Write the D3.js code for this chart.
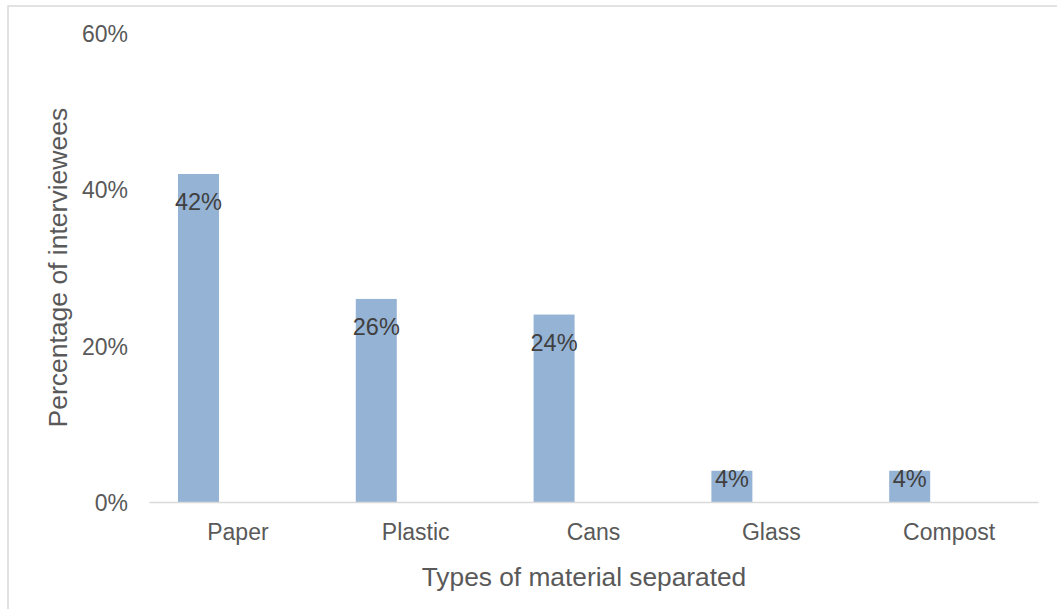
<!DOCTYPE html>
<html>
<head>
<meta charset="utf-8">
<script src="https://cdn.jsdelivr.net/npm/d3@7"></script>
<style>
  html, body { margin: 0; padding: 0; background: #fff; }
  svg { display: block; font-family: "Liberation Sans", Arial, sans-serif; }
</style>
</head>
<body>
<svg id="chart" width="1057" height="609"></svg>
<script>
// Share of interviewees separating each material type
const categories = ["Paper", "Plastic", "Cans", "Glass", "Compost"];
const shares = [0.42, 0.26, 0.24, 0.04, 0.04];
const yTicks = [0, 0.2, 0.4, 0.6];
const xTitle = "Types of material separated";
const yTitle = "Percentage of interviewees";

const svg = d3.select("#chart");
const W = 1057, H = 609;
const plot = { left: 149, right: 1038, top: 33.4, bottom: 502 };

// chart frame
svg.append("rect")
  .attr("x", 8).attr("y", 6)
  .attr("width", W + 20).attr("height", H + 20)
  .attr("fill", "#fff")
  .attr("stroke", "#d9d9d9").attr("stroke-width", 1.5);

const x = d3.scaleBand().domain(categories).range([plot.left, plot.right]).padding(0);
const y = d3.scaleLinear().domain([0, 0.6]).range([plot.bottom, plot.top]);
const fmt = d3.format(".0%");

// y axis labels (no line, no ticks)
const yAxis = d3.axisLeft(y).tickValues(yTicks).tickFormat(fmt).tickSize(0).tickPadding(0);
const gy = svg.append("g").attr("transform", "translate(128,0)").call(yAxis);
gy.select(".domain").remove();
gy.selectAll("text")
  .attr("fill", "#595959")
  .attr("font-size", 23)
  .attr("font-family", "Liberation Sans, Arial, sans-serif")
  .attr("dy", "0.36em");

// bars
const barOffset = 0.163, barWidth = 0.2306;
const data = categories.map((c, i) => ({ c, v: shares[i] }));
svg.append("g").selectAll("rect").data(data).join("rect")
  .attr("x", d => x(d.c) + x.bandwidth() * barOffset)
  .attr("width", x.bandwidth() * barWidth)
  .attr("y", d => y(d.v))
  .attr("height", d => y(0) - y(d.v))
  .attr("fill", "#95b3d5");

// x axis baseline and category labels
const xAxis = d3.axisBottom(x).tickSize(0).tickPadding(0);
const gx = svg.append("g").attr("transform", `translate(0,${y(0)})`).call(xAxis);
gx.select(".domain").attr("stroke", "#d9d9d9").attr("stroke-width", 1.5);
gx.selectAll("text")
  .attr("fill", "#595959")
  .attr("font-size", 23)
  .attr("font-family", "Liberation Sans, Arial, sans-serif")
  .attr("dy", null)
  .attr("y", 38);

// value labels inside the bar ends
svg.append("g").selectAll("text").data(data).join("text")
  .attr("x", d => x(d.c) + x.bandwidth() * (barOffset + barWidth / 2))
  .attr("y", d => Math.min(y(d.v) + 36.5, y(0) - 15))
  .attr("text-anchor", "middle")
  .attr("font-size", 23.5)
  .attr("fill", "#404040")
  .text(d => fmt(d.v));

// axis titles
svg.append("text")
  .attr("x", 584).attr("y", 586)
  .attr("text-anchor", "middle")
  .attr("font-size", 26.3)
  .attr("fill", "#595959")
  .text(xTitle);

svg.append("text")
  .attr("transform", `translate(67,${(plot.top + plot.bottom) / 2}) rotate(-90)`)
  .attr("text-anchor", "middle")
  .attr("font-size", 26.5)
  .attr("fill", "#595959")
  .text(yTitle);
</script>
</body>
</html>
